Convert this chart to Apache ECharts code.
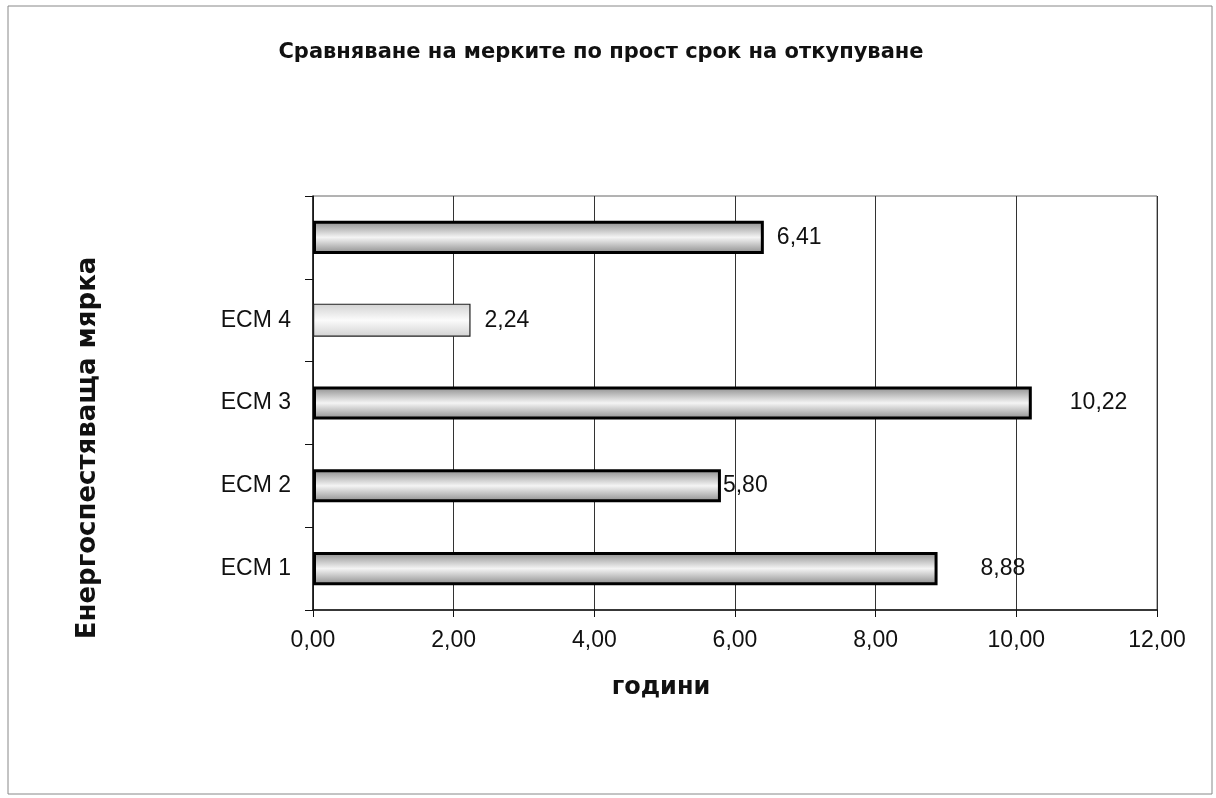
<!DOCTYPE html>
<html>
<head>
<meta charset="utf-8">
<script src="https://cdn.jsdelivr.net/npm/echarts@6/dist/echarts.min.js"></script>
<style>
  html, body { margin: 0; padding: 0; background: #fff; }
  #chart { width: 1216px; height: 798px; }
</style>
</head>
<body>
<div id="chart"></div>
<script>
// data, bottom to top as in the picture
const categories = ['ECM 1', 'ECM 2', 'ECM 3', 'ECM 4', '']
const values = [8.88, 5.80, 10.22, 2.24, 6.41]
const xTicks = [0, 2, 4, 6, 8, 10, 12]

// label offsets (px) so the value labels sit where Excel put them
const labelShift = [43, 2, 38, 14, 13]

const fmt = v => v.toFixed(2).replace('.', ',')

const darkFill = {
  type: 'linear', x: 0, y: 0, x2: 0, y2: 1,
  colorStops: [
    { offset: 0, color: '#8a8a8a' },
    { offset: 0.5, color: '#f4f4f4' },
    { offset: 1, color: '#8a8a8a' }
  ]
}
const lightFill = {
  type: 'linear', x: 0, y: 0, x2: 0, y2: 1,
  colorStops: [
    { offset: 0, color: '#d2d2d2' },
    { offset: 0.5, color: '#fbfbfb' },
    { offset: 1, color: '#d2d2d2' }
  ]
}

const labelFont = 'Liberation Sans, Arial, sans-serif'
const boldFont = 'DejaVu Sans, Liberation Sans, Arial, sans-serif'

let myChart = echarts.init(document.getElementById('chart'))
let options = {
  backgroundColor: '#fff',
  animation: false,
  textStyle: { fontFamily: labelFont, color: '#111' },
  graphic: [
    {
      type: 'rect',
      shape: { x: 8, y: 6, width: 1204, height: 788 },
      style: { fill: 'none', stroke: '#888', lineWidth: 1 }
    }
  ],
  title: {
    text: 'Сравняване на мерките по прост срок на откупуване',
    left: 596,
    top: 37,
    textAlign: 'center',
    textStyle: {
      fontSize: 21,
      fontWeight: 'bold',
      color: '#111',
      fontFamily: boldFont
    }
  },
  grid: {
    left: 313,
    right: 59,
    top: 196,
    bottom: 188,
    show: true,
    borderColor: '#666',
    borderWidth: 1
  },
  xAxis: {
    type: 'value',
    min: xTicks[0],
    max: xTicks[xTicks.length - 1],
    interval: 2,
    name: 'години',
    nameLocation: 'middle',
    nameGap: 66,
    nameTextStyle: {
      fontSize: 24, fontWeight: 'bold', color: '#111', fontFamily: boldFont,
      padding: [0, 148, 0, 0]
    },
    axisLine: { show: true, lineStyle: { color: '#111', width: 1.5 } },
    axisTick: { show: true, length: 7, lineStyle: { color: '#111' } },
    axisLabel: { fontSize: 23, color: '#111', margin: 19, formatter: v => fmt(v) },
    splitLine: { show: true, lineStyle: { color: '#333', width: 1 } }
  },
  yAxis: {
    type: 'category',
    data: categories,
    name: 'Енергоспестяваща мярка',
    nameLocation: 'middle',
    nameGap: 212,
    nameRotate: 90,
    nameTextStyle: {
      fontSize: 26, fontWeight: 'bold', color: '#111', fontFamily: boldFont,
      padding: [0, 90, 0, 0]
    },
    axisLine: { show: true, lineStyle: { color: '#111', width: 1.5 } },
    axisTick: { show: true, length: 8, lineStyle: { color: '#111' } },
    axisLabel: { fontSize: 23, color: '#111', margin: 22 },
    splitLine: { show: false }
  },
  series: [
    {
      name: 'години',
      type: 'bar',
      barWidth: '40%',
      data: values.map((v, i) => ({
        value: v,
        itemStyle: i === 3
          ? { color: lightFill, borderColor: '#222', borderWidth: 1.2 }
          : { color: darkFill, borderColor: '#000', borderWidth: 3 },
        label: { distance: labelShift[i] }
      })),
      label: {
        show: true,
        position: 'right',
        fontSize: 23,
        color: '#111',
        formatter: p => fmt(p.value)
      }
    }
  ]
}
myChart.setOption(options)
</script>
</body>
</html>
